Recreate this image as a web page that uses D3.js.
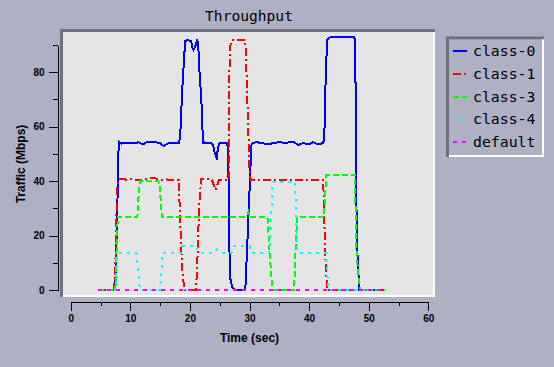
<!DOCTYPE html>
<html><head><meta charset="utf-8">
<script src="https://cdn.jsdelivr.net/npm/d3@7/dist/d3.min.js"></script>
<style>
html,body{margin:0;padding:0;background:#aeb0c3;}
svg{display:block;}
</style></head>
<body>
<script>
// ---- data (time in sec, traffic in Mbps) ----
const title = "Throughput";
const xLabel = "Time (sec)";
const yLabel = "Traffic (Mbps)";
const seriesNames = ["class-0", "class-1", "class-3", "class-4", "default"];
const xTicks = [0, 5, 10, 15, 20, 25, 30, 35, 40, 45, 50, 55, 60];
const xTickLabels = [0, 10, 20, 30, 40, 50, 60];
const yTicks = [0, 10, 20, 30, 40, 50, 60, 70, 80, 90];
const yTickLabels = [0, 20, 40, 60, 80];

const class0 = [[4.5,0],[7.4,0],[7.6,8],[7.8,28],[8.0,50],[8.1,54.5],[8.5,53.8],[10,54],[11,54],[11.3,54.3],[11.8,53.8],[12.2,53.6],[12.7,54.3],[13.5,54.2],[14,54.4],[15,54],[15.3,53.3],[15.7,52.9],[16.2,53.8],[17,54],[18.2,54],[18.4,58],[18.6,68],[18.8,77],[19.0,84],[19.2,91.5],[19.5,91.7],[20.2,91.6],[20.4,89],[20.6,88.2],[20.9,89.5],[21.2,91.7],[21.4,91],[21.5,84],[21.7,77],[21.9,71],[22.2,54],[22.5,54.2],[23,54],[23.6,54],[23.9,53],[24.2,50],[24.5,48.5],[24.7,52],[24.9,53.8],[25.5,54],[26.3,54],[26.5,40],[26.6,17],[26.8,4],[27.1,1],[27.5,0],[29.3,0],[29.4,6],[29.6,15],[29.9,31],[30.1,41.5],[30.3,53],[30.5,54],[31.2,54.3],[32,54],[33.2,53.5],[34,54],[35.1,54.3],[36,54],[37.3,54.5],[38.2,53.3],[39,54],[39.9,53.5],[40.7,54.3],[41.5,53.5],[42.4,54],[42.6,60],[42.7,72],[42.9,84.5],[43.0,92],[43.3,92.6],[43.8,93],[47.5,93],[47.7,92],[47.8,74],[48.0,17],[48.2,10],[48.4,0],[52.75,0]];

const class1 = [[4.5,0],[7.3,0],[7.5,10],[7.7,30],[7.9,40.5],[8.5,40.8],[9.5,40.5],[10.5,40.7],[11.5,40.3],[12.5,40.6],[14,41.2],[15,40.5],[16,40.6],[17,40.5],[18.1,40.5],[18.3,30],[18.5,17],[18.8,5],[19.1,0],[21.0,0],[21.2,7],[21.5,27],[21.7,35.5],[21.9,40.7],[23,40.7],[23.7,40.5],[24.0,38.5],[24.3,36.8],[24.6,38.5],[24.9,40.5],[26.5,40.5],[26.6,78],[26.8,90],[27.0,91.7],[29.3,91.7],[29.5,80],[29.8,57.7],[30.0,44],[30.2,40.5],[42.3,40.5],[42.5,34],[42.6,21],[42.8,8],[43.1,0],[52.75,0]];

const class3 = [[4.5,0],[7.5,0],[7.7,15],[7.9,27],[8.5,27],[11.2,27],[11.4,35],[11.6,40.2],[14.6,40.2],[14.9,39],[15.1,33],[15.3,27],[20,27],[25,27],[29.6,27],[29.8,28.8],[30.0,27.5],[30.2,27],[33.0,27],[33.2,20],[33.5,10],[33.8,0],[37.5,0],[37.7,14],[38.0,27],[42.5,27],[42.7,35],[42.9,42.3],[47.7,42.3],[47.9,16],[48.2,7],[48.5,0],[52.75,0]];

const class4 = [[4.5,0],[7.5,0],[7.7,8],[7.9,13.5],[11.0,13.5],[11.3,7],[11.6,0],[15.0,0],[15.2,7],[15.4,13.5],[18.5,13.5],[18.7,16],[21.1,16],[21.4,13.7],[24.2,13.7],[24.5,14.7],[24.8,13.7],[27.0,13.7],[27.3,16],[30.0,16],[30.2,13.7],[33.3,13.7],[33.6,25],[33.9,39.8],[37.6,39.8],[37.8,30],[38.0,14],[38.5,13.7],[42.8,13.7],[43.0,7],[43.3,0],[52.75,0]];

const classDefault = [[4.5,0],[52.75,0]];

const seriesData = [class0, class1, class3, class4, classDefault];
const seriesColors = ["#0000ff", "#ff0000", "#00ff00", "#00ffff", "#ff00ff"];
const seriesDash = [null, "8,3,2,3", "6,3", "3,5", "4,5"];

// ---- layout ----
const W = 554, H = 367;
const svg = d3.select("body").append("svg").attr("width", W).attr("height", H);

const x = d3.scaleLinear().domain([0, 60]).range([70.7, 428.3]);
const y = d3.scaleLinear().domain([0, 90]).range([290, 45]);

const panelBorderDark = "#6e707d";
const panelFill = "#e5e5e5";

// title
svg.append("text").attr("x", 249).attr("y", 21)
  .attr("text-anchor", "middle")
  .style("font-family", "'DejaVu Sans Mono', monospace").style("font-size", "14.6px")
  .attr("fill", "#000").text(title);

// panel
svg.append("rect").attr("x", 60).attr("y", 29).attr("width", 375).attr("height", 268).attr("fill", panelFill);
svg.append("path").attr("d", "M435,29.5V297H60.5V295H433V32Z").attr("fill", "#ffffff");
svg.append("path").attr("d", "M60,29H435V32H63V297H60Z").attr("fill", panelBorderDark);

// lines
const line = d3.line().x(d => x(d[0])).y(d => y(d[1]));
const g = svg.append("g");
seriesData.forEach((data, i) => {
  g.append("path").datum(data).attr("d", line)
    .attr("fill", "none").attr("stroke", seriesColors[i]).attr("stroke-width", 2)
    .attr("stroke-dasharray", seriesDash[i]).attr("stroke-linejoin", "miter")
    .attr("shape-rendering", "crispEdges");
});

// y axis
const yAxis = d3.axisLeft(y).tickValues(yTicks).tickSizeInner(9).tickSizeOuter(0).tickPadding(4)
  .tickFormat(d => yTickLabels.includes(d) ? d : "");
const yg = svg.append("g").attr("transform", "translate(57.5,0)").call(yAxis);
yg.selectAll(".tick line").attr("x2", d => yTickLabels.includes(d) ? -9 : -5);

// x axis
const xAxis = d3.axisBottom(x).tickValues(xTicks).tickSizeInner(9).tickSizeOuter(0).tickPadding(4.5)
  .tickFormat(d => xTickLabels.includes(d) ? d : "");
const xg = svg.append("g").attr("transform", "translate(0,301.5)").call(xAxis);
xg.selectAll(".tick line").attr("y2", d => xTickLabels.includes(d) ? 9 : 4);

[yg, xg].forEach(a => {
  a.selectAll("text").style("font-family", "'Liberation Sans', Arial, sans-serif")
    .style("font-size", "10px").style("font-weight", "bold").attr("fill", "#000");
  a.selectAll("line,path").attr("stroke", "#000").attr("shape-rendering", "crispEdges");
});

// axis labels
svg.append("text").attr("x", 249.5).attr("y", 341.5).attr("text-anchor", "middle")
  .style("font-family", "'Liberation Sans', Arial, sans-serif").style("font-size", "12px").style("font-weight", "bold")
  .text(xLabel);
svg.append("text").attr("transform", "translate(25,164) rotate(-90)").attr("text-anchor", "middle")
  .style("font-family", "'Liberation Sans', Arial, sans-serif").style("font-size", "12px").style("font-weight", "bold")
  .text(yLabel);

// legend
const lg = svg.append("g");
lg.append("path").attr("d", "M544,36.5V157H446.5V155H542V39Z").attr("fill", "#ffffff");
lg.append("path").attr("d", "M446,36.5H544V39.3H449V157H446Z").attr("fill", panelBorderDark);
seriesNames.forEach((name, i) => {
  const yy = 50.7 + i * 22.9;
  lg.append("line").attr("x1", 452.5).attr("x2", 467).attr("y1", yy).attr("y2", yy)
    .attr("stroke", seriesColors[i]).attr("stroke-width", 2).attr("stroke-dasharray", seriesDash[i])
    .attr("shape-rendering", "crispEdges");
  lg.append("text").attr("x", 473).attr("y", yy + 5)
    .style("font-family", "'DejaVu Sans Mono', monospace").style("font-size", "14.8px")
    .attr("fill", "#000").text(name);
});
</script>
</body></html>
